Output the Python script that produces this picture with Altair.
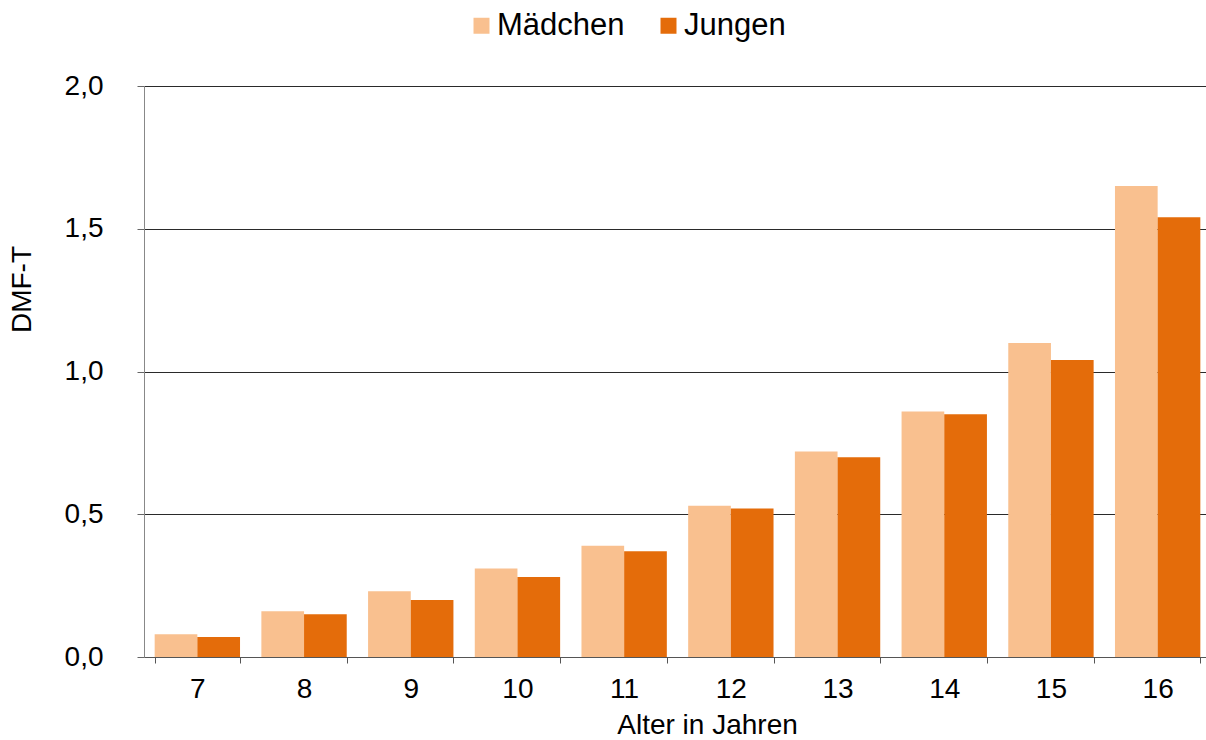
import altair as alt
import pandas as pd

# DMF-T by age and sex
ages = ["7", "8", "9", "10", "11", "12", "13", "14", "15", "16"]
maedchen = [0.08, 0.16, 0.23, 0.31, 0.39, 0.53, 0.72, 0.86, 1.10, 1.65]
jungen = [0.07, 0.15, 0.20, 0.28, 0.37, 0.52, 0.70, 0.85, 1.04, 1.54]
groups = ["Mädchen", "Jungen"]
colors = ["#F9C08F", "#E46C0A"]

rows = []
for i, a in enumerate(ages):
    rows.append({"Alter": a, "Geschlecht": groups[0], "DMF-T": maedchen[i]})
    rows.append({"Alter": a, "Geschlecht": groups[1], "DMF-T": jungen[i]})
df = pd.DataFrame(rows)

FONT = "Liberation Sans"

chart = (
    alt.Chart(df)
    .mark_bar()
    .encode(
        x=alt.X(
            "Alter:N",
            sort=ages,
            # category band runs slightly past the right edge of the canvas
            scale=alt.Scale(paddingInner=0.2, paddingOuter=0.1, range=[0, 1067]),
            axis=alt.Axis(
                title="Alter in Jahren",
                labelAngle=0,
                tickBand="extent",
                tickSize=6,
                tickColor="#555555",
                domainColor="#555555",
                labelPadding=12,
                titlePadding=8,
                titleX=563,
                titleAlign="center",
                grid=False,
            ),
        ),
        xOffset=alt.XOffset("Geschlecht:N", sort=groups, scale=alt.Scale(paddingInner=0, paddingOuter=0)),
        y=alt.Y(
            "DMF-T:Q",
            scale=alt.Scale(domain=[0, 2]),
            axis=alt.Axis(
                title="DMF-T",
                values=[0, 0.5, 1.0, 1.5, 2.0],
                labelExpr="replace(format(datum.value, '.1f'), '.', ',')",
                tickSize=7,
                tickColor="#666666",
                domainColor="#888888",
                gridColor="#2a2a2a",
                gridWidth=1,
                labelPadding=34,
                titleX=-122,
                titleY=203,
                titleAlign="center",
                titleBaseline="middle",
                titleAngle=270,
            ),
        ),
        color=alt.Color(
            "Geschlecht:N",
            sort=groups,
            scale=alt.Scale(domain=groups, range=colors),
            legend=alt.Legend(
                title=None,
                orient="none",
                direction="horizontal",
                legendX=322,
                legendY=-76,
                symbolType="square",
                symbolSize=256,
                symbolStrokeWidth=0,
                symbolOpacity=1,
                labelFontSize=31,
                labelOffset=0,
                columnPadding=28,
                labelLimit=400,
                padding=0,
            ),
        ),
    )
    .properties(
        width=1062,
        height=571,
        autosize=alt.AutoSizeParams(type="none"),
        padding={"left": 144, "top": 86, "right": 0, "bottom": 83},
    )
    .configure_view(stroke=None)
    .configure_axis(
        labelFont=FONT,
        titleFont=FONT,
        labelFontSize=28,
        titleFontSize=28,
        labelColor="#000000",
        titleColor="#000000",
        titleFontWeight="normal",
    )
    .configure_legend(labelFont=FONT, labelColor="#000000")
)

chart.save("out.html", embed_options={"renderer": "svg", "actions": False})
